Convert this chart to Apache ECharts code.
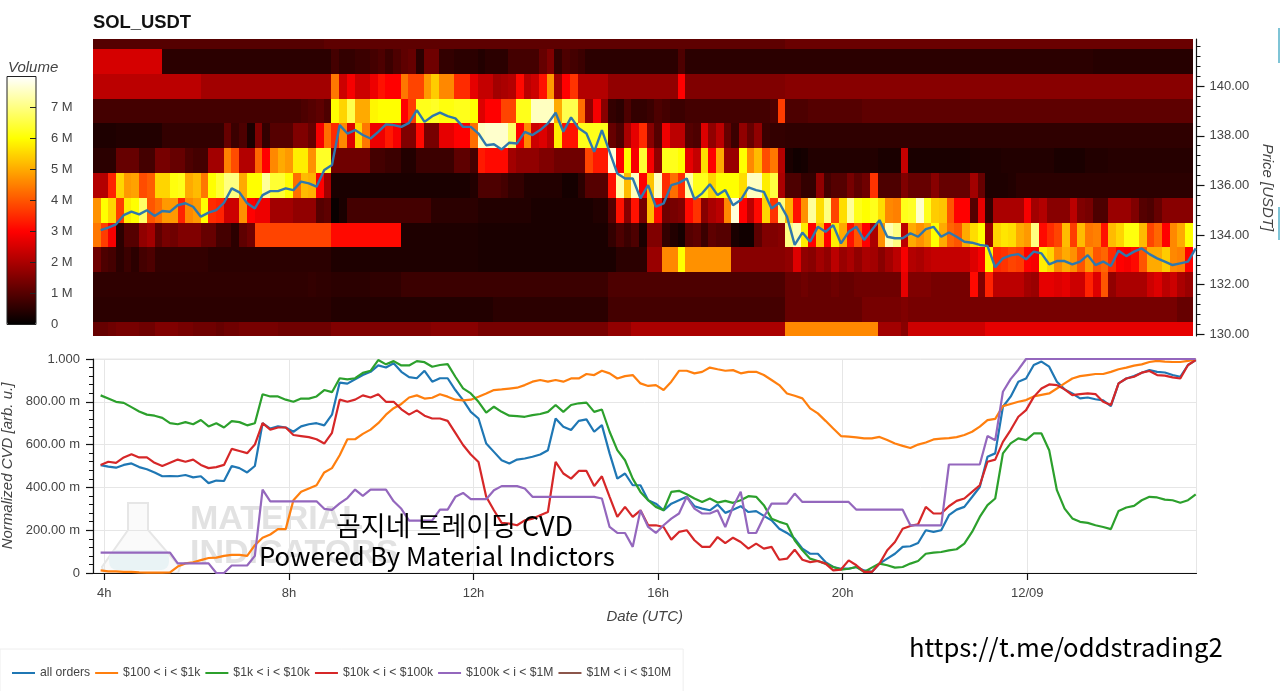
<!DOCTYPE html>
<html>
<head>
<meta charset="utf-8">
<title>SOL_USDT</title>
<script src="https://cdn.jsdelivr.net/npm/echarts@6/dist/echarts.min.js"></script>
<style>
  html, body { margin: 0; padding: 0; background: #fff; }
  #chart { width: 1280px; height: 691px; }
</style>
</head>
<body>
<div id="chart"></div>
<script>
// ---- heatmap, volume in millions, one array per price level, 10 min columns ----
const row142 = [
  1,1,1,1,1,1,1,1,1,1, 1,1,1,1,1,1,1,1,1,1, 1,1,1,1,1,1,1,1,1,1,
  1.1,1.1,1.1,1.1,1.1,1.1,1.1,1.1,1.1,1.1, 1.1,1.1,1.1,1.1,1.1,1.1,1.1,1.1,1.1,1.1,
  1.1,1.1,1.1,1.1,1.1,1.1,1.1,1.1,1.1,1.1, 1.1,1.1,1.1,1.1,1.1,1.1,1.1,1.1,1.1,1.1,
  1.1,1.1,1.1,1.1,1.1,1.1,1.1,1.1,1.1,1.1, 1.1,1.1,1.1,1.1,1.1,1.1,1.1,1.1,1.1,1.1,
  1.25,1.25,1.25,1.25,1.25,1.25,1.25,1.25,1.25,1.25, 1.25,1.25,1.25,1.25,1.25,1.25,1.25,1.25,1.25,1.25,
  1.25,1.25,1.25,1.25,1.25,1.25,1.25,1.25,1.25,1.25, 1.25,1.25,1.25,1.25,1.25,1.25,1.25,1.25,1.25,1.25,
  1.25,1.25,1.25,1.25,1.25,1.25,1.25,1.25,1.25,1.25, 1.25,1.25,1.25
];
const row141 = [
  2.5,2.5,2.5,2.5,2.5,2.5,2.5,2.5,2.5,.5, .5,.5,.5,.5,.5,.5,.5,.5,.5,.5, .5,.5,.5,.5,.5,.5,.5,.5,.5,.5,
  .5,.8,.6,.6,.7,.7,.8,.9,.7,.9, 1.1,1.2,.5,1.3,1.3,.6,.6,.5,.5,.5,
  .4,.5,.5,.5,.8,.8,.8,.8,1.2,1.5, .6,.9,.8,.7,.5,.5,.5,.5,.5,.5,
  .5,.5,.5,.5,.5,.5,.9,.5,.5,.5, .5,.5,.5,.5,.5,.5,.5,.5,.5,.5,
  .5,.5,.5,.5,.5,.5,.5,.5,.5,.5, .5,.5,.5,.5,.5,.5,.5,.5,.5,.5,
  .5,.5,.5,.5,.5,.5,.5,.5,.5,.5, .5,.5,.5,.5,.5,.5,.5,.5,.5,.5,
  .45,.45,.45,.45,.45,.45,.45,.45,.45,.45, .45,.45,.45
];
const row140 = [
  2.2,2.2,2.2,2.2,2.2,2.2,2.2,2.2,2.2,2.2, 2.2,2.2,2.2,2.2,1.9,1.9,1.9,1.9,1.9,1.9, 1.9,1.9,1.9,1.9,1.9,1.9,1.9,1.9,1.9,1.9,
  1.9,4.4,2.4,2.9,2.4,2.4,2.8,3.2,3,3, 4.4,3.8,3.8,4.8,5.4,4.6,4.6,3.5,3.5,2.7,
  2.3,2.3,1.9,2,2.1,3.1,2.2,2.4,3.2,4.8, 1.9,3,3.6,2.1,2.1,2.1,2.1,1.7,1.7,1.7,
  1.7,1.7,1.7,1.7,1.7,1.7,3,1.5,1.5,1.5, 1.5,1.5,1.5,1.5,1.5,1.5,1.5,1.5,1.5,1.5,
  1.6,1.6,1.6,1.6,1.6,1.6,1.6,1.6,1.6,1.6, 1.6,1.6,1.6,1.6,1.6,1.6,1.6,1.6,1.6,1.6,
  1.6,1.6,1.6,1.6,1.6,1.6,1.6,1.6,1.6,1.6, 1.6,1.6,1.6,1.6,1.6,1.6,1.6,1.6,1.6,1.6,
  1.6,1.6,1.6,1.6,1.6,1.6,1.6,1.6,1.6,1.6, 1.6,1.6,1.6
];
const row139 = [
  .8,.8,.8,.8,.8,.8,.8,.8,.8,.8, .8,.8,.8,.8,.8,.8,.8,.8,.8,.8, .8,.8,.8,.8,.8,.8,.8,.9,1,1.1,
  .9,6,5.5,6.6,5,5,5.9,6,6,6, 3,3.7,6.2,6.2,6.3,6.1,6.1,6.2,6.2,6,
  2.6,3,3,3.8,3.8,6.2,6.2,7.5,7.5,7.5, 5,6.6,6.6,4.3,1.7,2.9,1.6,.6,.5,.9,
  .6,.6,.7,.9,.8,.7,.7,.8,.8,.8, .8,.8,.8,.8,.8,.8,.8,.8,.9,3.7,
  .9,.9,.9,1,1,1,1,1,1,1, 1.1,1.1,1.1,1.1,1.1,1.1,1.1,1.1,1.1,1.1,
  1.1,1.1,1.1,1.1,1.1,1.1,1.1,1.1,1.1,1.1, 1.1,1.1,1.1,1.1,1.1,1.1,1.1,1.1,1.1,1.1,
  1.1,1.1,1.1,1.1,1.1,1.1,1.1,1.1,1.1,1.1, 1.1,1.1,1.1
];
const row138 = [
  .35,.35,.35,.4,.4,.4,.4,.4,.4,.6, .6,.6,.6,.6,.6,.6,.6,1.2,.7,.9, .3,1.5,.6,1,1,1,1.5,1.5,1.2,2.9,
  4.3,3.5,4.6,2.6,5.5,4.4,2.8,2.8,3.3,2.9, 1.5,1.5,3.1,1.4,1.4,2.7,2.7,3,3,4.3,
  7.5,7.6,7.6,7.6,6.8,3,4.6,2.4,2.6,2.2, 5.8,3.2,3.2,6.2,6.2,6.2,6.2,1.2,.9,2,
  2.7,3.5,1.6,1,2.8,2.2,2.2,1,.9,2.6, 1.7,2.2,1.2,.7,1.7,1.2,1.7,.7,.6,.6,
  .55,.55,.55,.55,.55,.55,.55,.55,.55,.55, .55,.55,.55,.55,.55,.55,.55,.55,.55,.55,
  .55,.55,.55,.55,.55,.55,.55,.55,.55,.55, .55,.55,.55,.55,.55,.55,.55,.55,.55,.55,
  .55,.55,.55,.55,.55,.55,.55,.55,.55,.55, .55,.55,.55
];
const row137 = [
  .5,.5,.5,1.2,1.2,1.2,.8,.8,1.4,1.4, 1.2,1.2,.9,.8,.8,1.9,1.9,4.5,3.9,2.1, 2.1,4.2,3,4.6,5,4.8,5.8,5.8,4.7,6.3,
  6.3,1.3,1.3,1.3,1.3,1.3,.8,.8,.7,.7, .4,.4,.7,.7,.7,.7,.7,1.1,1.1,.8,
  3.3,3.1,3.1,3.1,1.9,1.7,1.7,1.7,1.5,1.5, 1.3,1.3,1.3,1.3,3.8,3.3,3.3,7.7,3,6,
  2.9,6.4,2.9,1.7,6.2,6.2,6,2.7,2.3,5.6, 3,5,1.8,1.8,6,4.6,5.2,3.9,4.4,2.1,
  .3,.2,.25,.4,.4,.4,.4,.4,.4,.4, .4,.4,.3,.3,.3,2.3,.3,.3,.3,.3,
  .3,.3,.3,.3,.35,.35,.35,.35,.4,.4, .4,.4,.4,.4,.4,.3,.3,.3,.3,.4,
  .4,.4,.45,.45,.45,.45,.45,.45,.45,.45, .45,.45,.45
];
const row136 = [
  2.1,2.1,3.4,5.5,4.8,4.9,3.9,4.1,5.5,5.5, 6.1,6.2,5,5.2,4.4,6,6.4,7,7,5, 6,6,7.2,6.4,6.4,6,4.3,5.2,5.1,3,
  1.9,.3,.3,.3,.3,.3,.3,.3,.3,.3, .3,.3,.3,.3,.3,.3,.3,.3,.3,.4,
  .9,.9,.9,.8,.6,.6,.4,.4,.4,.4, .4,.25,.25,.5,1,1,1,3.2,7.3,5.2,
  7.5,3,5.3,7.5,3.5,4.3,3.5,7.3,6.2,6.2, 5.5,6,6,6,5.6,7.5,7.5,5.8,6.5,2,
  .9,.9,.6,.6,1.7,.8,1,1,1.4,1.1, 1.3,3.6,.9,.9,.9,1.5,1.2,1.2,1.2,1.6,
  1.2,1.2,1.2,1.2,1.9,1.2,.35,.35,.35,.4, .5,.5,.5,.5,.5,.5,.5,.5,.5,.5,
  .5,.5,.5,.5,.5,.5,.5,.5,.5,.5, .5,.5,.5
];
const row135 = [
  4.7,6,5.5,3.7,5.8,6,6.8,4,4.3,4.8, 4.8,3.4,4.6,4.8,6,3.5,3.4,2.4,2.4,4.7, 3,2.8,2.8,1.9,1.9,1.9,1.7,1.7,1.7,1,
  1.1,.1,.3,.8,.8,.8,.8,.8,.8,.8, .8,.8,.8,.8,.5,.5,.5,.5,.5,.5,
  .4,.4,.4,.4,.4,.4,.4,.3,.3,.3, .3,.3,.3,.3,.3,.4,.4,1,3.2,1.6,
  3.2,1.4,5.2,3.1,1.3,1.4,1.5,3.1,3.6,1.6, 2,2.2,4.6,7.7,3,2.2,3.1,5.5,3.6,7,
  5.1,3.2,4.7,7.2,5.6,7,3.8,5.6,7.2,6.2, 6,6.2,5.6,4.6,4.5,6.2,6.3,7.6,6.2,5.4,
  5.3,4,3,3,1,2.7,.6,2,2,2, 2,2.9,1.9,2.1,1.6,1.6,1.6,2.2,1.5,1.4,
  .9,.9,1.8,1.8,1.8,1.5,1,.9,1.2,1.6, 1.6,1.6,1.6
];
const row134 = [
  4.4,3.7,2.9,.5,1,1,1.7,1.9,1.1,1.4, 1.3,1.5,1.5,1.5,1.2,1.2,.8,.8,.5,1.1, 1.3,3.8,3.8,3.8,3.8,3.8,3.8,3.8,3.8,3.8,
  3.8,3.1,3.1,3.1,3.1,3.1,3.1,3.1,3.1,3.1, .35,.35,.35,.35,.35,.35,.35,.35,.35,.35,
  .3,.3,.3,.3,.3,.3,.3,.3,.3,.3, .3,.3,.3,.3,.3,.3,.3,.6,.9,.7,
  .9,.3,1.5,1.5,.6,.4,.25,1,1.1,.7, 1.1,1,1,.3,.2,.2,1.1,1.5,1.5,1.6,
  7,7.4,5.8,3,5.2,3,5.8,5,3.2,4, 3,2,4.7,7.4,7,2.2,5,4.7,5,6,
  5,4.2,4,5,5.6,6,1.8,5.5,5.7,5.6, 5,4.8,7,3.1,3.5,3.8,5.2,3.7,5.2,4.4,
  4.5,3.2,5.2,5.5,6.1,6.1,5.2,3.8,4.2,3, 4.6,5,6
];
const row133 = [
  1.3,.9,.8,.5,.7,.5,.8,.9,.6,.6, .6,.6,.6,.6,.6,.5,.5,.5,.5,.5, .5,.5,.5,.5,.5,.5,.5,.5,.5,.5,
  .5,.35,.35,.35,.35,.35,.35,.35,.35,.35, .35,.35,.35,.35,.35,.35,.35,.35,.35,.35,
  .3,.3,.3,.3,.3,.3,.3,.3,.3,.3, .3,.3,.3,.3,.3,.3,.3,.3,.5,.5,
  .5,.5,1.8,1.8,4.6,4.6,6,4.7,4.7,4.7, 4.7,4.7,4.7,1.6,1.6,1.6,1.6,1.6,1.6,1.6,
  1.7,2.6,1.7,1.6,1.9,1.7,2.2,1.8,2,1.7, 2,1.9,1.6,1.9,2.2,2.9,2.1,2,2.2,2.3,
  2.3,2.3,2.3,2.3,2.6,2.9,5.9,3.5,3.6,3.8, 3.7,3,2.9,5.8,5.5,4.6,5,4.7,4,4.8,
  4,4.2,3.5,3,2.9,3.1,4,5,5,5.4, 4.6,4.5,3
];
const row132 = [
  .55,.55,.55,.55,.55,.55,.55,.55,.55,.55, .55,.55,.55,.55,.55,.55,.55,.55,.55,.55, .55,.55,.55,.55,.55,.55,.55,.55,.6,.55,
  .55,.5,.5,.5,.5,.5,.55,.55,.55,.55, .7,.7,.7,.7,.7,.7,.7,.7,.7,.7,
  .7,.7,.7,.7,.7,.7,.7,.7,.7,.7, .7,.7,.7,.7,.7,.7,.7,.9,.9,.9,
  .9,.9,.9,.9,.9,.9,.9,.9,.9,.9, .9,.9,.9,.9,.9,.9,.9,.9,.9,.9,
  1.2,1.2,1.3,1.2,1.2,1.2,1.3,1.2,1.2,1.3, 1.3,1.3,1.3,1.3,1.3,2.7,1.5,1.5,1.5,1.4,
  1.4,1.4,1.4,1.4,3.1,1.5,3.4,2.2,2.2,2.2, 2.2,1.9,1.8,2.7,2.7,2.6,2.7,2.4,2.4,3.4,
  2.6,4,1.7,2,2,2,2,2.4,2.6,2.2, 2.4,2,1.8
];
const row131 = [
  .5,.5,.5,.5,.5,.5,.5,.5,.5,.5, .5,.5,.5,.5,.5,.5,.5,.5,.5,.5, .5,.5,.5,.5,.5,.5,.5,.5,.5,.5,
  .5,.4,.4,.4,.4,.4,.4,.4,.4,.4, .4,.4,.4,.4,.4,.4,.4,.4,.4,.4,
  .4,.4,.5,.5,.5,.5,.5,.5,.5,.5, .5,.5,.5,.5,.5,.5,.5,.8,.8,.8,
  .8,.8,.8,.8,.8,.8,.8,.8,.8,.8, .8,.8,.8,.8,.8,.8,.8,.8,.8,.8,
  1.2,1.2,1.2,1.2,1.2,1.2,1.2,1.2,1.2,1.2, 1.4,1.4,1.4,1.4,1.4,1.5,1.4,1.4,1.4,1.4,
  1.4,1.4,1.4,1.4,1.4,1.4,1.4,1.4,1.4,1.4, 1.4,1.4,1.4,1.4,1.4,1.4,1.4,1.4,1.4,1.4,
  1.4,1.4,1.4,1.4,1.4,1.4,1.4,1.4,1.4,1.4, 1.4,1.2,1.2
];
const row130 = [
  1.2,1.2,1.3,1.4,1.4,1.4,1.3,1.3,1.5,1.5, 1.5,1.4,1.4,1.3,1.3,1.3,1.2,1.3,1.3,1.4, 1.4,1.4,1.4,1.4,1.3,1.3,1.3,1.3,1.3,1.3,
  1.3,1.5,1.5,1.5,1.5,1.5,1.5,1.5,1.5,1.5, 1.5,1.5,1.5,1.5,1.6,1.6,1.6,1.6,1.6,1.6,
  1.4,1.4,1.4,1.4,1.4,1.4,1.4,1.4,1.4,1.4, 1.4,1.4,1.4,1.4,1.4,1.4,1.4,1.7,1.7,1.7,
  2,2,2,2,2,2,2,2,2,2, 2,2,2,2,2,2,2,2,2,2,
  4.6,4.6,4.6,4.6,4.6,4.6,4.6,4.6,4.6,4.6, 4.6,4.6,1.9,1.9,1.9,1.6,2.4,2.4,2.4,2.4,
  2.4,2.4,2.4,2.4,2.4,2.4,2.7,2.7,2.7,2.7, 2.7,2.7,2.7,2.7,2.7,2.7,2.7,2.7,2.7,2.7,
  2.7,2.7,2.7,2.7,2.7,2.7,2.7,2.7,2.7,2.7, 2.7,2.7,2.7
];
const priceRows = [
  [142, row142], [141, row141], [140, row140], [139, row139], [138, row138], [137, row137], [136, row136],
  [135, row135], [134, row134], [133, row133], [132, row132], [131, row131], [130, row130],
];

// ---- price line ----
const priceLine = [
  134.2,134.3,134.43,134.8,134.94,134.83,135,134.77,134.97,134.94,
  135.2,135.28,135.14,134.74,134.9,135,135.3,135.88,135.72,135.28,
  135.07,135.61,135.77,135.77,135.88,135.81,136.15,136.08,135.95,136.62,
  136.82,138.43,138.09,138.23,138.03,137.89,138.16,138.46,138.43,138.36,
  138.52,139.03,138.56,138.79,138.93,138.79,138.7,138.36,138.36,138.09,
  137.62,137.66,137.45,137.72,137.69,138.16,138.03,138.23,138.5,138.93,
  138.16,138.74,138.3,138.09,137.35,138.23,137.35,136.48,136.28,136.28,
  135.48,136.01,135.14,135.27,136.01,136.1,136.28,135.44,135.68,136.05,
  135.61,135.81,135.2,135.41,135.92,135.81,135.74,135.07,135.3,134.74,
  133.6,134.1,133.73,134.33,134.13,134.4,133.66,134.13,134.33,133.8,
  134.2,134.6,133.93,133.87,133.87,134.07,133.93,134.24,134.33,133.93,
  134.1,133.93,133.73,133.69,133.6,133.56,132.7,133.06,133.18,133.23,
  133.02,133.33,133.26,132.82,132.95,132.95,132.82,132.93,133.19,132.79,
  132.93,132.75,133.37,133.15,133.33,133.46,133.23,133.06,132.93,132.79,
  132.86,132.93,133.46
];

// ---- normalized CVD ----
const cvdAll = [
  .504,.497,.492,.505,.512,.495,.485,.47,.452,.453,
  .452,.458,.447,.452,.42,.432,.43,.5,.49,.47,
  .5,.7,.675,.685,.68,.66,.685,.695,.7,.69,
  .74,.89,.885,.905,.925,.94,.97,.96,.98,.94,
  .915,.91,.945,.894,.91,.91,.855,.808,.753,.722,
  .605,.566,.527,.512,.53,.535,.543,.554,.574,.722,
  .683,.668,.711,.718,.66,.691,.559,.441,.465,.41,
  .41,.34,.324,.293,.324,.34,.356,.312,.301,.293,
  .32,.281,.296,.312,.285,.289,.267,.246,.207,.187,
  .161,.114,.09,.09,.051,.028,.02,.02,.028,.012,
  .005,.044,.067,.09,.122,.125,.14,.2,.192,.2,
  .27,.296,.309,.355,.402,.543,.559,.777,.824,.894,
  .909,.972,.988,.964,.894,.858,.839,.816,.82,.812,
  .807,.78,.886,.909,.92,.936,.948,.94,.937,.925,
  .917,.972,.995
];
const cvd100to1k = [
  .012,.008,.008,.005,.005,.003,.002,.002,.002,.003,
  .03,.045,.05,.06,.07,.072,.08,.085,.085,.08,
  .13,.165,.18,.205,.205,.34,.38,.395,.41,.47,
  .49,.55,.625,.625,.65,.67,.7,.74,.77,.79,
  .82,.83,.815,.819,.835,.824,.81,.807,.81,.824,
  .839,.855,.858,.862,.866,.878,.894,.902,.894,.902,
  .894,.909,.909,.93,.925,.945,.933,.909,.92,.925,
  .886,.874,.878,.855,.894,.945,.945,.933,.94,.96,
  .952,.945,.948,.933,.94,.94,.925,.902,.878,.839,
  .828,.816,.769,.746,.711,.675,.64,.637,.634,.629,
  .629,.636,.621,.605,.594,.584,.6,.61,.624,.628,
  .63,.635,.645,.66,.684,.714,.72,.78,.79,.8,
  .808,.825,.832,.839,.862,.886,.909,.92,.925,.93,
  .93,.94,.952,.96,.969,.975,.986,.991,.988,.986,
  .986,.991,.998
];
const cvd1kto10k = [
  .83,.815,.8,.795,.775,.755,.74,.735,.725,.7,
  .695,.705,.695,.715,.685,.7,.68,.71,.705,.69,
  .7,.835,.825,.825,.81,.8,.815,.815,.825,.855,
  .845,.91,.905,.91,.935,.945,.995,.975,.99,.97,
  .97,.99,.985,.964,.972,.976,.917,.863,.839,.8,
  .749,.777,.753,.735,.733,.73,.738,.743,.753,.785,
  .753,.785,.793,.796,.753,.764,.66,.574,.527,.441,
  .379,.34,.309,.293,.379,.384,.368,.348,.332,.348,
  .329,.337,.328,.34,.359,.356,.317,.254,.239,.228,
  .153,.106,.067,.056,.044,.028,.016,.02,.028,.005,
  .025,.044,.036,.025,.028,.044,.056,.09,.095,.098,
  .106,.111,.137,.192,.262,.317,.348,.559,.606,.629,
  .621,.652,.652,.574,.387,.301,.255,.239,.234,.223,
  .215,.205,.29,.306,.314,.34,.356,.353,.343,.34,
  .328,.34,.367
];
const cvd10kto100k = [
  .505,.52,.515,.54,.555,.54,.54,.515,.5,.515,
  .53,.52,.53,.505,.49,.495,.505,.58,.57,.56,
  .6,.7,.67,.68,.68,.645,.64,.635,.625,.605,
  .655,.81,.8,.81,.83,.82,.835,.8,.8,.765,
  .74,.76,.735,.722,.722,.711,.655,.598,.554,.519,
  .356,.293,.234,.231,.223,.246,.254,.27,.285,.519,
  .465,.441,.477,.477,.406,.452,.356,.262,.309,.262,
  .293,.223,.223,.215,.156,.192,.2,.153,.122,.122,
  .168,.14,.165,.145,.114,.137,.114,.122,.062,.067,
  .109,.062,.051,.056,.044,.012,.016,.059,.036,.005,
  .005,.044,.106,.145,.207,.22,.228,.309,.278,.278,
  .312,.337,.348,.379,.41,.52,.53,.613,.668,.73,
  .761,.823,.862,.881,.878,.858,.831,.836,.839,.836,
  .8,.785,.886,.909,.917,.936,.944,.925,.922,.914,
  .909,.972,.995
];
const cvd100kto1M = [
  .095,.095,.095,.095,.095,.095,.095,.095,.095,.095,
  .045,.045,.045,.045,.045,0,0,.035,.035,.035,
  .08,.39,.335,.335,.335,.335,.335,.335,.335,.3,
  .295,.325,.35,.39,.36,.39,.39,.39,.335,.3,
  .245,.245,.245,.246,.296,.296,.356,.374,.345,.345,
  .345,.387,.406,.406,.406,.395,.356,.356,.356,.356,
  .356,.356,.356,.356,.356,.348,.215,.187,.187,.122,
  .293,.215,.187,.223,.254,.278,.356,.301,.278,.278,
  .293,.215,.309,.38,.187,.187,.262,.324,.324,.324,
  .371,.332,.332,.332,.332,.332,.332,.332,.296,.296,
  .296,.296,.296,.296,.296,.223,.223,.223,.223,.223,
  .507,.507,.507,.507,.507,.64,.62,.847,.906,.95,
  1,1,1,1,1,1,1,1,1,1,
  1,1,1,1,1,1,1,1,1,1,
  1,1,1
];
const cvd1Mto10M = [];

// ---- labels ----
const volumeTicks = [0, 1, 2, 3, 4, 5, 6, 7];
const priceTicks = [130, 132, 134, 136, 138, 140];
const priceMinorTicks = [130.4, 130.8, 131.2, 131.6, 132.4, 132.8, 133.2, 133.6, 134.4, 134.8, 135.2, 135.6,
  136.4, 136.8, 137.2, 137.6, 138.4, 138.8, 139.2, 139.6, 140.4, 140.8, 141.2, 141.6];
const hourTicks = [4, 8, 12, 16, 20, 24];
const hotColors = ["#000000", "#550000", "#aa0000", "#ff0000", "#ff5500", "#ffaa00", "#ffff00", "#ffff80", "#ffffff"];
const legendNames = ["all orders", "$100 < i < $1k", "$1k < i < $10k", "$10k < i < $100k", "$100k < i < $1M", "$1M < i < $10M"];
const lineColors = ["#1f77b4", "#ff7f0e", "#2ca02c", "#d62728", "#9467bd", "#8c564b"];
const cvdSeries = [cvdAll, cvd100to1k, cvd1kto10k, cvd10kto100k, cvd100kto1M, cvd1Mto10M];

const HOUR_MIN = 3.755, HOUR_MAX = 27.667;
const CELL_START = 3.755, CELL_STEP = 1 / 6;
const LINE_START = 3.92, LINE_STEP = (27.65 - 3.92) / 142;

const FONT = '"Liberation Sans", Helvetica, Arial, sans-serif';
const AXIS_TEXT = "#444";

const cells = [];
priceRows.forEach(([price, row]) => {
  row.forEach((v, i) => cells.push([CELL_START + i * CELL_STEP, price, v]));
});
const linePoints = vals => vals.map((v, i) => [LINE_START + i * LINE_STEP, v]);

function renderCell(params, api) {
  const x = api.value(0), price = api.value(1);
  const a = api.coord([x, price + 0.5]);
  const b = api.coord([x + CELL_STEP, price - 0.5]);
  const r = echarts.graphic.clipRectByRect(
    { x: a[0], y: a[1], width: b[0] - a[0], height: b[1] - a[1] },
    { x: params.coordSys.x, y: params.coordSys.y, width: params.coordSys.width, height: params.coordSys.height }
  );
  if (!r) return null;
  // 픽셀에 맞춰 이음새 없애기
  const x0 = Math.round(r.x), y0 = Math.round(r.y);
  const shape = { x: x0, y: y0, width: Math.round(r.x + r.width) - x0, height: Math.round(r.y + r.height) - y0 };
  return { type: "rect", shape, style: { fill: api.visual("color") } };
}

function hourLabel(v) { return v === 24 ? "12/09" : v + "h"; }
function cvdLabel(v) {
  if (v === 1) return "1.000";
  if (v === 0) return "0";
  return (v * 1000).toFixed(2) + " m";
}

const chart = echarts.init(document.getElementById("chart"));
chart.setOption({
  animation: false,
  textStyle: { fontFamily: FONT },
  title: {
    text: "SOL_USDT", left: 93, top: 14, padding: 0,
    textStyle: { fontFamily: FONT, fontSize: 18.4, fontWeight: "bold", color: "#111" },
  },
  grid: [
    { left: 93, top: 39, width: 1103.5, height: 297, outerBoundsMode: "none" },
    { left: 93, top: 359, width: 1103.5, height: 214, show: true, borderColor: "#e6e6e6", borderWidth: 1, outerBoundsMode: "none" },
    { left: 7, top: 76.5, width: 29, height: 248, show: true, borderColor: "#222", borderWidth: 1, z: 6, outerBoundsMode: "none" },
  ],
  xAxis: [
    { gridIndex: 0, type: "value", min: HOUR_MIN, max: HOUR_MAX, show: false },
    {
      gridIndex: 1, type: "value", min: HOUR_MIN, max: HOUR_MAX,
      name: "Date (UTC)", nameLocation: "middle", nameGap: 36,
      nameTextStyle: { fontFamily: FONT, fontSize: 15, fontStyle: "italic", color: AXIS_TEXT },
      axisLine: { onZero: false, lineStyle: { color: "#111", width: 1.2 } },
      axisTick: { customValues: hourTicks, length: 7, lineStyle: { color: "#111", width: 1.2 } },
      axisLabel: { customValues: hourTicks, formatter: hourLabel, fontSize: 13, color: AXIS_TEXT, margin: 14 },
      splitLine: { show: true, customValues: hourTicks, lineStyle: { color: "#e6e6e6" } },
    },
    { gridIndex: 2, type: "value", min: 0, max: 1, show: false },
  ],
  yAxis: [
    {
      gridIndex: 0, type: "value", position: "right", min: 129.93, max: 141.9,
      name: "Price [USDT]", nameLocation: "middle", nameGap: 62, nameRotate: -90,
      nameTextStyle: { fontFamily: FONT, fontSize: 15, fontStyle: "italic", color: AXIS_TEXT },
      axisLine: { show: true, onZero: false, lineStyle: { color: "#111", width: 1.2 } },
      axisTick: { customValues: priceTicks, length: 8, lineStyle: { color: "#111", width: 1.2 } },
      axisLabel: { customValues: priceTicks, formatter: v => v.toFixed(2), fontSize: 13, color: AXIS_TEXT, margin: 13 },
      splitLine: { show: false },
    },
    {
      gridIndex: 0, type: "value", position: "right", min: 129.93, max: 141.9,
      axisLine: { show: false, onZero: false },
      axisTick: { show: true, customValues: priceMinorTicks, length: 4, lineStyle: { color: "#111", width: 1 } },
      axisLabel: { show: false },
      splitLine: { show: false },
    },
    {
      gridIndex: 1, type: "value", min: 0, max: 1, interval: 0.2,
      name: "Normalized CVD [arb. u.]", nameLocation: "middle", nameGap: 72,
      nameTextStyle: { fontFamily: FONT, fontSize: 15, fontStyle: "italic", color: AXIS_TEXT },
      axisLine: { show: true, onZero: false, lineStyle: { color: "#111", width: 1.2 } },
      axisTick: { show: true, length: 7, lineStyle: { color: "#111", width: 1.2 } },
      minorTick: { show: true, splitNumber: 5, length: 4, lineStyle: { color: "#111" } },
      axisLabel: { formatter: cvdLabel, fontSize: 13, color: AXIS_TEXT, margin: 13 },
      splitLine: { show: true, lineStyle: { color: "#e6e6e6" } },
    },
    {
      gridIndex: 2, type: "value", position: "right", min: 0, max: 8, interval: 1, z: 6,
      axisLine: { show: false, onZero: false },
      axisTick: { show: true, inside: true, length: 6, customValues: volumeTicks, lineStyle: { color: "#222" } },
      axisLabel: {
        customValues: volumeTicks, formatter: v => (v === 0 ? "0" : v + " M"),
        fontSize: 13, color: AXIS_TEXT, margin: 15,
      },
      splitLine: { show: false },
    },
  ],
  visualMap: {
    type: "continuous", min: 0, max: 8, dimension: 2, seriesIndex: 0,
    left: 7, top: 76.5, padding: 0, itemWidth: 29, itemHeight: 248,
    calculable: false, hoverLink: false, realtime: false,
    inRange: { color: hotColors },
  },
  legend: {
    data: legendNames, left: 0, top: 649, orient: "horizontal",
    padding: [18, 12, 18, 12], itemGap: 5, itemWidth: 23, itemHeight: 2, icon: "rect",
    borderColor: "#eeeeee", borderWidth: 1, backgroundColor: "#fff",
    textStyle: { fontFamily: FONT, fontSize: 12.2, color: AXIS_TEXT },
  },
  series: [
    {
      type: "custom", name: "volume", xAxisIndex: 0, yAxisIndex: 0,
      renderItem: renderCell, data: cells, encode: { x: 0, y: 1 }, silent: true, z: 1,
    },
    {
      type: "line", name: "price", xAxisIndex: 0, yAxisIndex: 0, data: linePoints(priceLine),
      symbol: "none", lineStyle: { color: "#2f78ad", width: 2.4 }, z: 3,
    },
    ...legendNames.map((name, k) => ({
      type: "line", name, xAxisIndex: 1, yAxisIndex: 2, data: linePoints(cvdSeries[k]),
      symbol: "none", clip: false, color: lineColors[k], lineStyle: { color: lineColors[k], width: 2.2 }, z: 3,
    })),
  ],
  graphic: [
    { type: "text", z: 10, style: { x: 8, y: 67.5, text: "Volume", font: "italic 15px " + FONT, fill: AXIS_TEXT, textVerticalAlign: "middle" } },
    // 워터마크
    {
      type: "polygon", z: 0,
      shape: { points: [[128, 503], [148, 503], [148, 530], [180, 567], [178, 573], [104, 573], [102, 567], [128, 530]] },
      style: { fill: "#fafafa", stroke: "#e6e6e6", lineWidth: 2 },
    },
    { type: "rect", z: 0, shape: { x: 109, y: 550, width: 60, height: 20, r: 8 }, style: { fill: "#e9f3f5" } },
    { type: "text", z: 0, style: { x: 190, y: 520, text: "MATERIAL", font: 'bold 34px "Liberation Sans Narrow", ' + FONT, fill: "#e2e2e2", textVerticalAlign: "middle" } },
    { type: "text", z: 0, style: { x: 190, y: 554, text: "INDICATORS", font: 'bold 34px "Liberation Sans Narrow", ' + FONT, fill: "#e2e2e2", textVerticalAlign: "middle" } },
    // 오버레이 문구
    { type: "text", z: 100, style: { x: 336, y: 526, text: "곰지네 트레이딩 CVD", font: '27px "Noto Sans CJK KR"', fill: "#000", textVerticalAlign: "middle" } },
    { type: "text", z: 100, style: { x: 259, y: 556, text: "Powered By Material Indictors", font: '25.7px "Noto Sans CJK KR"', fill: "#000", textVerticalAlign: "middle" } },
    { type: "text", z: 100, style: { x: 909, y: 647, text: "https://t.me/oddstrading2", font: '25.7px "Noto Sans CJK KR"', fill: "#000", textVerticalAlign: "middle" } },
    // 오른쪽 가장자리
    { type: "rect", z: 100, shape: { x: 1278, y: 28, width: 2, height: 35 }, style: { fill: "#7fc4d6" } },
    { type: "rect", z: 100, shape: { x: 1278, y: 207, width: 2, height: 33 }, style: { fill: "#7fc4d6" } },
  ],
});
</script>
</body>
</html>
